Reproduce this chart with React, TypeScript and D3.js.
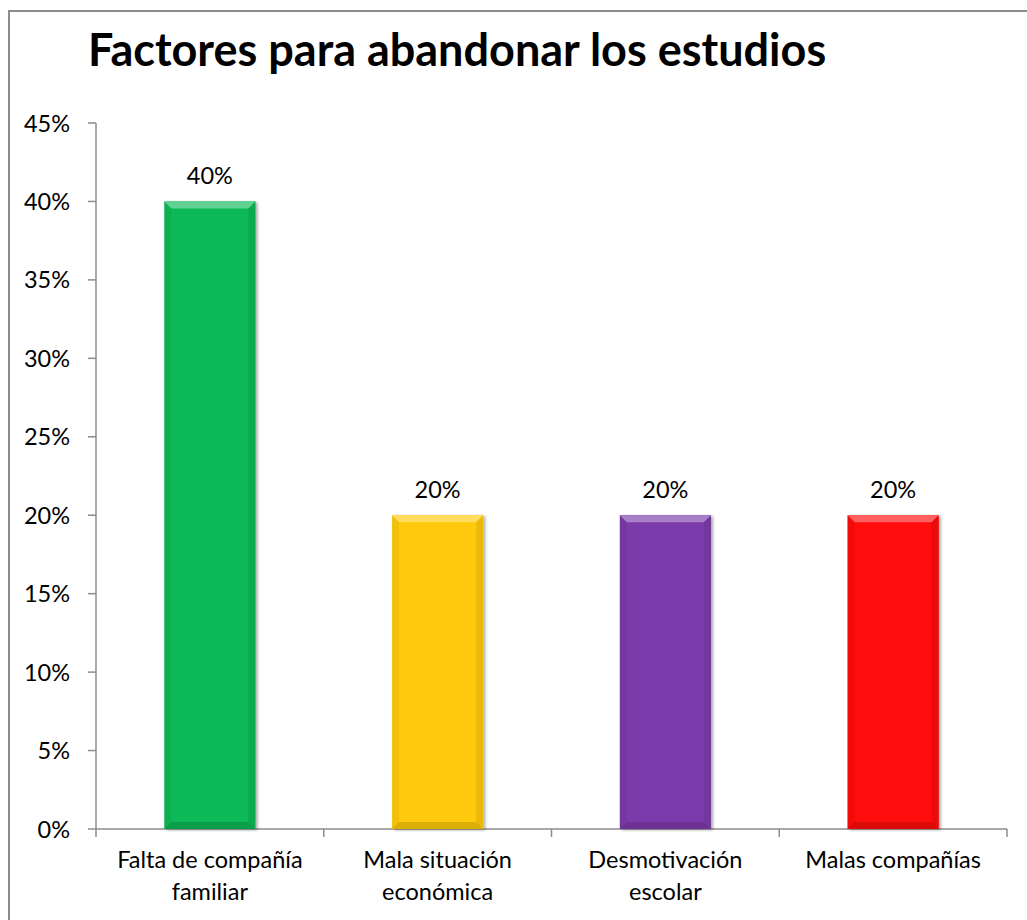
import React from "react";
import * as d3 from "d3";

const categories: string[][] = [
  ["Falta de compañía", "familiar"],
  ["Mala situación", "económica"],
  ["Desmotivación", "escolar"],
  ["Malas compañías"],
];
const values: number[] = [0.4, 0.2, 0.2, 0.2];
const barColors: string[] = ["#0BB857", "#FFCA08", "#7B3AAA", "#FF0A0A"];
const yTicks: number[] = [0, 0.05, 0.1, 0.15, 0.2, 0.25, 0.3, 0.35, 0.4, 0.45];
const title = "Factores para abandonar los estudios";

const W = 1027;
const H = 920;
const left = 96;
const right = 1007;
const top = 123;
const bottom = 829;
const FONT = "Lato, 'Open Sans', sans-serif";

export default function App() {
  const x = d3
    .scaleBand<number>()
    .domain(values.map((_, i) => i))
    .range([left, right])
    .paddingInner(0.6)
    .paddingOuter(0.3);
  const band = d3.scaleBand<number>().domain(values.map((_, i) => i)).range([left, right]);
  const y = d3.scaleLinear().domain([0, 0.45]).range([bottom, top]);
  const fmt = d3.format(".0%");
  const bev = 7;

  return (
    <svg width={W} height={H} style={{ display: "block", position: "absolute", left: 0, top: 0 }}>
      <defs>
        <filter id="sh" x="-10%" y="-10%" width="130%" height="130%">
          <feDropShadow dx="2" dy="1" stdDeviation="1.5" floodColor="#000" floodOpacity="0.35" />
        </filter>
      </defs>
      <rect x={0} y={0} width={W} height={H} fill="#fff" />
      <rect x={9} y={11} width={W + 20} height={H + 20} fill="#fff" stroke="#8c8c8c" strokeWidth={2} />
      <text x={88} y={66} fontFamily={FONT} fontWeight="bold" fontSize={45} fill="#000">
        {title}
      </text>
      {/* y axis */}
      <line x1={left} x2={left} y1={y(0.45)} y2={y(0)} stroke="#8c8c8c" strokeWidth={1.5} />
      {yTicks.map((t) => (
        <g key={t}>
          <line x1={left - 8} x2={left} y1={y(t)} y2={y(t)} stroke="#8c8c8c" strokeWidth={1.5} />
          <text x={70} y={y(t) + 8.5} textAnchor="end" fontFamily={FONT} fontSize={23.5} fill="#000">
            {fmt(t)}
          </text>
        </g>
      ))}
      {/* x axis */}
      <line x1={left} x2={right} y1={y(0)} y2={y(0)} stroke="#8c8c8c" strokeWidth={1.5} />
      {[...values.map((_, i) => band(i)!), right].map((bx, i) => (
        <line key={i} x1={bx} x2={bx} y1={y(0)} y2={y(0) + 8} stroke="#8c8c8c" strokeWidth={1.5} />
      ))}
      {values.map((v, i) => {
        const x0 = x(i)!;
        const w = x.bandwidth();
        const y0 = y(v);
        const y1 = y(0);
        const c = d3.color(barColors[i])!;
        const light = d3.interpolateRgb(barColors[i], "#fff")(0.35);
        const dark = c.darker(0.5).toString();
        const darker = c.darker(0.8).toString();
        const cx = x0 + w / 2;
        return (
          <g key={i}>
            <rect x={x0} y={y0} width={w} height={y1 - y0} fill={barColors[i]} filter="url(#sh)" />
            <polygon
              points={`${x0},${y0} ${x0 + w},${y0} ${x0 + w - bev},${y0 + bev} ${x0 + bev},${y0 + bev}`}
              fill={light}
            />
            <polygon
              points={`${x0},${y0} ${x0 + bev},${y0 + bev} ${x0 + bev},${y1 - bev} ${x0},${y1}`}
              fill={dark}
              opacity={0.3}
            />
            <polygon
              points={`${x0 + w},${y0} ${x0 + w - bev},${y0 + bev} ${x0 + w - bev},${y1 - bev} ${x0 + w},${y1}`}
              fill={dark}
              opacity={0.5}
            />
            <polygon
              points={`${x0},${y1} ${x0 + bev},${y1 - bev} ${x0 + w - bev},${y1 - bev} ${x0 + w},${y1}`}
              fill={darker}
              opacity={0.55}
            />
            <text x={cx} y={y0 - 17} textAnchor="middle" fontFamily={FONT} fontSize={23.5} fill="#000">
              {fmt(v)}
            </text>
            {categories[i].map((line, j) => (
              <text
                key={j}
                x={band(i)! + band.bandwidth() / 2}
                y={y(0) + 39 + j * 32}
                textAnchor="middle"
                fontFamily={FONT}
                fontSize={23.5}
                fill="#000"
              >
                {line}
              </text>
            ))}
          </g>
        );
      })}
    </svg>
  );
}
